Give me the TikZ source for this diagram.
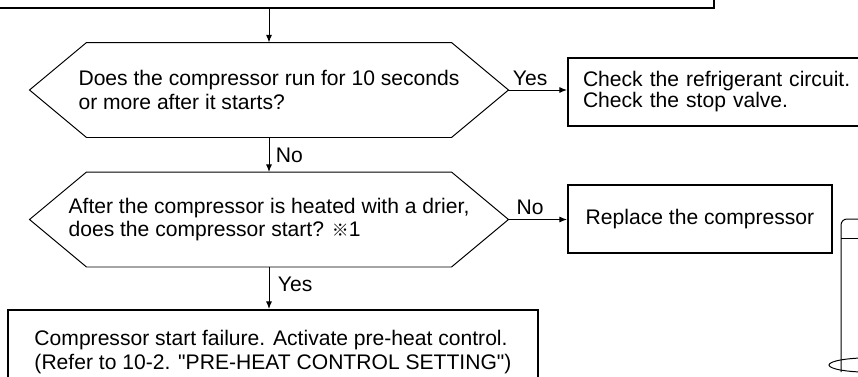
\documentclass[tikz,border=0pt]{standalone}
\usepackage{fontspec}
\setmainfont{Liberation Sans}
\newfontfamily\refmarkfont{Noto Sans CJK JP}
\usetikzlibrary{arrows.meta}

\begin{document}
\begin{tikzpicture}[y=-1cm, >={Latex[length=0.19cm,width=0.15cm]}, line width=0.7pt,
    font=\fontsize{15}{17}\selectfont,
    lbl/.style = {inner sep=3pt, text depth=0pt}]
    \clip (0,0) rectangle (21.45,9.4);
    {
        \tikzset{question/.style = {shape=rectangle, minimum width=11.95cm, minimum height=2.35cm, align=left, inner sep=0pt}}
        \tikzset{action/.style = {shape=rectangle, draw, line width=1.4pt, inner sep=0pt}}

        \node[draw, line width=1pt, minimum width=18.15cm, minimum height=1.2cm] (prev) at (8.775,-0.4) {};
        \node[question] (runs) at (6.725,2.25) {Does the compressor run for 10 seconds\\or more after it starts?};
        \node[question] (heated) at (6.725,5.4875) {After the compressor is heated with a drier,\\does the compressor start? {\refmarkfont\fontsize{12}{12}\selectfont ※}1};
        \node[action, text width=7.7cm, inner xsep=0.375cm, minimum height=1.7cm, align=left,
            font=\fontsize{15}{12}\selectfont] (circuit) at (18.425,2.3) {Check the refrigerant circuit.\\Check the stop valve.};
        \node[action, minimum width=6.6cm, minimum height=1.7cm] (replace) at (17.5,5.475) {Replace the compressor};
        \node[action, minimum width=13.25cm, minimum height=2.1cm, align=left,
            font=\fontsize{15}{16.5}\selectfont] (preheat) at (6.825,8.8) {Compressor start failure. Activate pre-heat control.\\(Refer to 10-2. \textquotedbl PRE-HEAT CONTROL SETTING\textquotedbl)};
    }

    % hexagon outlines of the two questions
    \foreach \q in {runs, heated}
        \draw ([xshift=1.425cm]\q.north west) -- ([xshift=-1.425cm]\q.north east) -- (\q.east)
            -- ([xshift=-1.425cm]\q.south east) -- ([xshift=1.425cm]\q.south west) -- (\q.west) -- cycle;

    \draw (prev.south -| runs.north) edge[->] (runs.north);
    \draw (runs.east) edge[->] node[lbl, above, pos=0.37] {Yes} (runs.east -| circuit.west);
    \draw (runs.south) edge[->] node[lbl, right, xshift=1.5pt] {No} (heated.north);
    \draw (heated.east) edge[->] node[lbl, above, pos=0.37] {No} (heated.east -| replace.west);
    \draw (heated.south) edge[->] node[lbl, right, pos=0.42, xshift=3pt] {Yes} (heated.south |- preheat.north);

    % compressor sketch at the edge
    \draw[rounded corners=0.15cm] (21.025,9.3) -- (21.025,5.475) -- (21.6,5.475);
    \draw (21.025,5.95) -- (21.6,5.95);
    \draw (21.75,9.125) ellipse [x radius=1.025cm, y radius=0.18cm];

\end{tikzpicture}
\end{document}
